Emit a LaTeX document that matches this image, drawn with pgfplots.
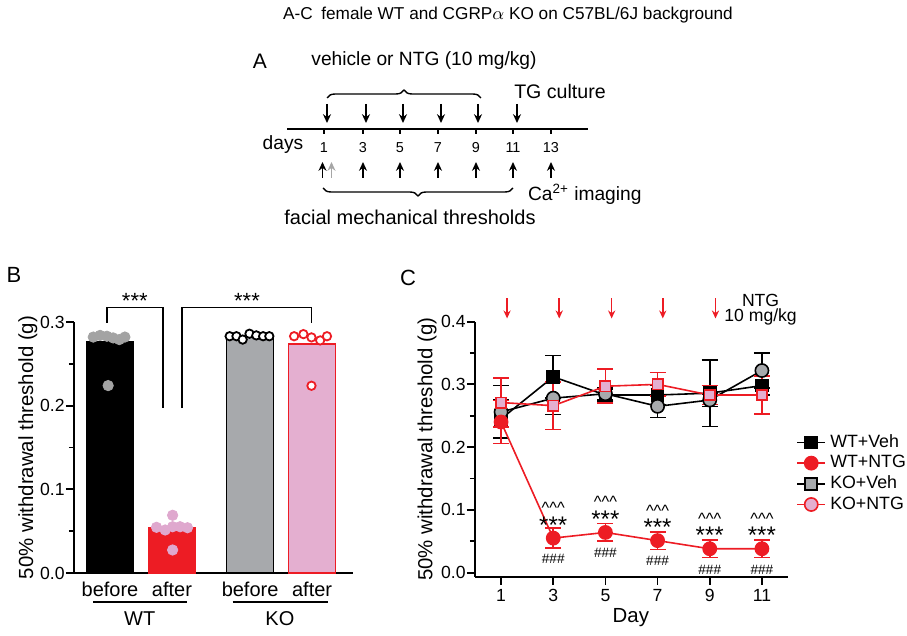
\documentclass[border=0pt]{standalone}
\usepackage{pgfplots}
\pgfplotsset{compat=1.18}
\usepackage{pgfplotstable}
\usepackage{fontspec}
\setmainfont{Liberation Sans}
\usetikzlibrary{arrows.meta,decorations.pathreplacing}
\definecolor{myred}{HTML}{ED1C24}
\definecolor{mypink}{HTML}{E4AFD0}
\definecolor{mygrey}{HTML}{A7A9AC}
\definecolor{dotgrey}{HTML}{A3A3A3}
\definecolor{dotpink}{HTML}{DFA8CE}

\pgfplotstableread{
x y e
1 0.245 0.030
3 0.312 0.034
5 0.283 0.010
7 0.283 0.015
9 0.286 0.053
11 0.298 0.015
}\wtveh
\pgfplotstableread{
x y e
1 0.256 0.042
3 0.278 0.026
5 0.285 0.010
7 0.265 0.018
9 0.275 0.010
11 0.322 0.028
}\koveh
\pgfplotstableread{
x y e
1 0.240 0.034
3 0.055 0.016
5 0.064 0.014
7 0.051 0.014
9 0.038 0.014
11 0.038 0.014
}\wtntg
\pgfplotstableread{
x y e
1 0.271 0.039
3 0.266 0.038
5 0.297 0.027
7 0.300 0.019
9 0.283 0.015
11 0.283 0.030
}\kontg

\newcommand\fs[1]{\fontsize{#1}{#1}\selectfont}
\tikzset{arr/.style={line width=0.85pt,-{Stealth[length=4.4pt,width=4pt]}}}
\newcommand\sig[2]{%
  \node[font=\fs{8.2},inner sep=0pt] at (axis cs:#1,#2+0.048) {\textasciicircum\textasciicircum\textasciicircum};
  \node[font=\fs{12},inner sep=0pt] at (axis cs:#1,#2+0.021) {***};
  \node[font=\fs{6.8},inner sep=0pt] at (axis cs:#1,#2-0.033) {\#\#\#};}
\newcommand\rarr[1]{\draw[myred,line width=0.8pt,-{Stealth[length=4pt,width=3.6pt]}] (axis cs:#1,0.437) -- (axis cs:#1,0.405);}

\begin{document}
\begin{tikzpicture}
\begin{scope}[x=0.5pt,y=-0.5pt]
% title
\node[font=\fs{8.6}] at (508,15) {A-C\enspace female WT and CGRP$\alpha$ KO on C57BL/6J background};
% panel A
\node[font=\fs{10.5}] at (260,61) {A};
\node[font=\fs{9.6}] at (424,61) {vehicle or NTG (10 mg/kg)};
\draw[line width=0.7pt,decorate,decoration={brace,amplitude=4pt}] (327,98) -- (481,98);
\foreach \xx in {327,366,403,441,478,517} \draw[arr] (\xx,104) -- (\xx,123);
\node[font=\fs{9.8}] at (560,91) {TG culture};
\draw[line width=1pt] (287,129) -- (588,129);
\foreach \xx/\dd in {324/1,363/3,400/5,438/7,476/9,513/11,551/13}{
  \draw[line width=0.6pt] (\xx,129) -- (\xx,134);
  \node[font=\fs{7.2}] at (\xx,148) {\dd};
}
\node[font=\fs{9.6}] at (283,145) {days};
\draw[arr] (322.5,178) -- (322.5,162);
\draw[arr,gray!70] (331.5,178) -- (331.5,162);
\foreach \xx in {363,400,438,476,513,551} \draw[arr] (\xx,178) -- (\xx,162);
\draw[line width=0.7pt,decorate,decoration={brace,amplitude=4pt}] (513,188) -- (323,188);
\node[font=\fs{9.6},anchor=west] at (521,194) {Ca\textsuperscript{2+} imaging};
\node[font=\fs{10}] at (410,217) {facial mechanical thresholds};
% panel labels
\node[font=\fs{11}] at (14,275) {B};
\node[font=\fs{11}] at (408,278) {C};
\end{scope}

% ---------------- Panel B
\begin{axis}[
 at={(37pt,-286.5pt)}, anchor=south west,
 scale only axis, width=139.5pt, height=125.5pt,
 xmin=0.419, xmax=4.92, ymin=0, ymax=0.3,
 axis lines=left, axis line style={line width=0.9pt,-},
 every tick/.style={line width=0.9pt,black},
 ytick={0,0.1,0.2,0.3}, minor ytick={0.05,0.15,0.25},
 yticklabel style={/pgf/number format/fixed,/pgf/number format/precision=1,/pgf/number format/fixed zerofill,font=\fs{8.8},inner xsep=0.5pt},
 /pgf/number format/assume math mode=true,
 tick align=outside, major tick length=4pt, minor tick length=2.5pt,
 xtick={1,2,3.26,4.26}, xticklabels={before,after,before,after},
 xticklabel style={font=\fs{10},yshift=3pt},
 x tick style={draw=none},
 ylabel={50\% withdrawal threshold (g)},
 ylabel style={font=\fs{10.2},at={(-0.165,0.5)},anchor=center},
 clip=false,
]
\addplot[ybar,bar shift=0pt,bar width=0.76,fill=black,draw=black,line width=0.8pt] coordinates {(1,0.276)};
\addplot[ybar,bar shift=0pt,bar width=0.76,fill=myred,draw=myred,line width=0.8pt] coordinates {(2,0.054)};
\addplot[ybar,bar shift=0pt,bar width=0.76,fill=mygrey,draw=black,line width=0.8pt] coordinates {(3.26,0.284)};
\addplot[ybar,bar shift=0pt,bar width=0.76,fill=mypink,draw=myred,line width=0.8pt] coordinates {(4.26,0.274)};
\addplot[only marks,mark=*,mark size=2.6pt,color=dotgrey] coordinates {
(0.73,0.282) (0.84,0.284) (0.95,0.283) (1.05,0.281) (1.15,0.279) (1.24,0.282) (0.97,0.224)};
\addplot[only marks,mark=*,mark size=2.6pt,color=dotpink] coordinates {
(1.75,0.0546) (1.89,0.0514) (2.01,0.0553) (2.13,0.0553) (2.25,0.0541) (2.01,0.069) (2.01,0.0275)};
\addplot[only marks,mark=*,mark size=2.1pt,mark options={fill=white,draw=black,line width=0.9pt}] coordinates {
(2.93,0.283) (3.04,0.283) (3.14,0.279) (3.25,0.286) (3.36,0.284) (3.47,0.283) (3.57,0.283)};
\addplot[only marks,mark=*,mark size=2.1pt,mark options={fill=white,draw=myred,line width=0.9pt}] coordinates {
(3.97,0.283) (4.12,0.2855) (4.25,0.2816) (4.39,0.278) (4.50,0.283) (4.25,0.2238)};
% brackets
\draw[line width=0.7pt] (axis cs:0.95,0.299) -- (axis cs:0.95,0.317) -- (axis cs:1.855,0.317) -- (axis cs:1.855,0.197);
\draw[line width=0.7pt] (axis cs:2.16,0.197) -- (axis cs:2.16,0.317) -- (axis cs:4.25,0.317) -- (axis cs:4.25,0.299);
\node[font=\fs{11}] at (axis cs:1.40,0.325) {***};
\node[font=\fs{11}] at (axis cs:3.21,0.325) {***};
% group labels
\draw[line width=0.8pt] (axis cs:0.726,-0.0347) -- (axis cs:2.24,-0.0347);
\draw[line width=0.8pt] (axis cs:2.98,-0.0347) -- (axis cs:4.52,-0.0347);
\node[font=\fs{10}] at (axis cs:1.48,-0.055) {WT};
\node[font=\fs{10}] at (axis cs:3.74,-0.055) {KO};
\end{axis}

% ---------------- Panel C
\begin{axis}[
 at={(237.5pt,-288.5pt)}, anchor=south west,
 scale only axis, width=156.5pt, height=127.7pt,
 xmin=0, xmax=12, ymin=-0.007, ymax=0.4,
 axis lines=left, axis line style={line width=0.9pt,-},
 every tick/.style={line width=0.9pt,black},
 xtick={1,3,5,7,9,11},
 ytick={0,0.1,0.2,0.3,0.4}, minor ytick={0.05,0.15,0.25,0.35},
 yticklabel style={/pgf/number format/fixed,/pgf/number format/precision=1,/pgf/number format/fixed zerofill,inner xsep=0.5pt},
 tick label style={font=\fs{8.8}},
 xticklabel style={yshift=1.5pt},
 /pgf/number format/assume math mode=true,
 tick align=outside, major tick length=4pt, minor tick length=2.5pt,
 xlabel={Day}, xlabel style={font=\fs{10.2},at={(0.498,-0.16)},anchor=center},
 ylabel={50\% withdrawal threshold (g)},
 ylabel style={font=\fs{10.2},at={(-0.153,0.5)},anchor=center},
 clip=false,
 legend style={at={(1.025,0.575)},anchor=north west,draw=none,fill=none,font=\fs{8.9},row sep=-1.5pt,
   inner sep=0pt, nodes={inner xsep=2pt}},
 legend cell align=left,
 legend image code/.code={\draw[mark repeat=2,mark phase=2] plot coordinates {(0cm,0cm) (0.25cm,0cm) (0.5cm,0cm)};},
]
\addplot[forget plot,color=black,line width=0.8pt,mark=square*,mark size=3pt,mark options={fill=black},
  error bars/.cd,y dir=both,y explicit,error bar style={line width=0.8pt},
  error mark options={rotate=90,mark size=4pt,line width=0.8pt}]
  table[x=x,y=y,y error=e]{\wtveh};
\addplot[forget plot,color=black,line width=0.8pt,mark=*,mark size=3.3pt,mark options={fill=mygrey},
  error bars/.cd,y dir=both,y explicit,error bar style={line width=0.8pt},
  error mark options={rotate=90,mark size=4pt,line width=0.8pt}]
  table[x=x,y=y,y error=e]{\koveh};
\addplot[forget plot,color=myred,line width=0.8pt,mark=*,mark size=3.3pt,mark options={fill=myred},
  error bars/.cd,y dir=both,y explicit,error bar style={line width=0.8pt},
  error mark options={rotate=90,mark size=4pt,line width=0.8pt}]
  table[x=x,y=y,y error=e]{\wtntg};
\addplot[forget plot,color=myred,line width=0.8pt,mark=square*,mark size=2.6pt,mark options={fill=mypink},
  error bars/.cd,y dir=both,y explicit,error bar style={line width=0.8pt},
  error mark options={rotate=90,mark size=4pt,line width=0.8pt}]
  table[x=x,y=y,y error=e]{\kontg};
\addlegendimage{black,line width=0.8pt,mark=square*,mark size=3pt,mark options={fill=black}}
\addlegendentry{WT+Veh}
\addlegendimage{myred,line width=0.8pt,mark=*,mark size=3.3pt,mark options={fill=myred}}
\addlegendentry{WT+NTG}
\addlegendimage{black,line width=0.8pt,mark=square*,mark size=3pt,mark options={fill=mygrey}}
\addlegendentry{KO+Veh}
\addlegendimage{myred,line width=0.8pt,mark=*,mark size=3.3pt,mark options={fill=mypink}}
\addlegendentry{KO+NTG}
% significance marks
\sig{3}{0.055}
\sig{5}{0.064}
\sig{7}{0.051}
\sig{9}{0.038}
\sig{11}{0.038}
% NTG arrows
\rarr{1.23}
\rarr{3.23}
\rarr{5.24}
\rarr{7.2}
\rarr{9.22}
\node[font=\fs{8.8},inner sep=0pt] at (axis cs:10.95,0.434) {NTG};
\node[font=\fs{8.8},inner sep=0pt] at (axis cs:10.95,0.408) {10 mg/kg};
\end{axis}
\pgfresetboundingbox
\path[use as bounding box] (0,0) rectangle (453.5pt,-318pt);
\end{tikzpicture}
\end{document}
